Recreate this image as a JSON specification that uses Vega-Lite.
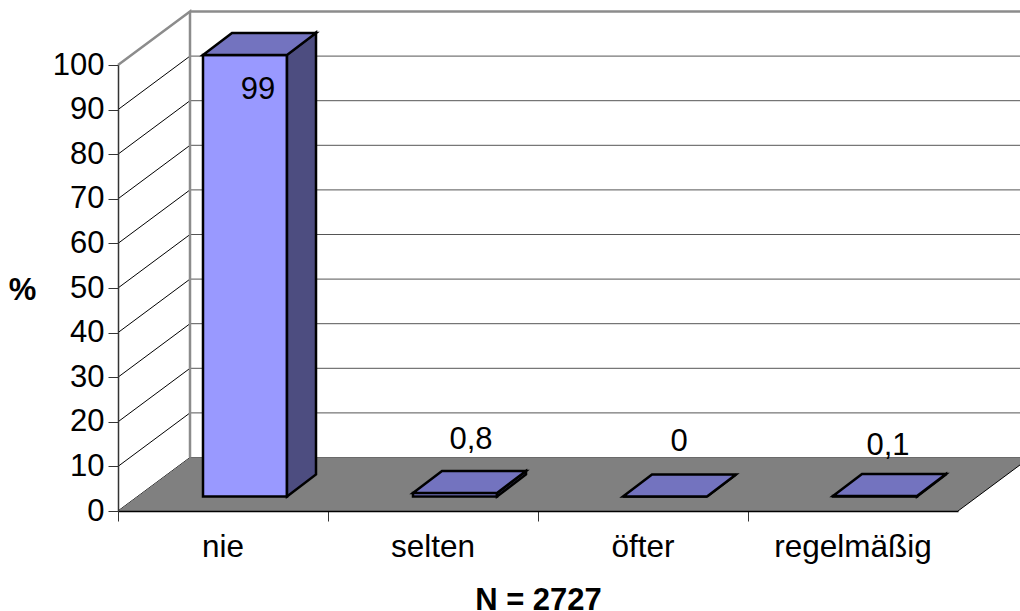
{
"$schema":"https://vega.github.io/schema/vega-lite/v6.json",
"width":840,"height":446,
"autosize":{"type":"none"},
"padding":{"left":118,"top":65,"right":62,"bottom":100},
"background":"white",
"datasets":{
"bars":[
{"cat":"nie","value":99,"label":"99"},
{"cat":"selten","value":0.8,"label":"0,8"},
{"cat":"öfter","value":0,"label":"0"},
{"cat":"regelmäßig","value":0.1,"label":"0,1"}],
"ticks":[{"t":0},{"t":10},{"t":20},{"t":30},{"t":40},{"t":50},{"t":60},{"t":70},{"t":80},{"t":90},{"t":100}]
},
"config":{"view":{"stroke":null},"font":"Liberation Sans","text":{"font":"Liberation Sans"}},
"layer":[
{"data":{"name":"ticks"},
 "transform":[{"filter":"datum.t<100"}],
 "mark":{"type":"point","shape":"M72 -53.5H912","size":4,"filled":false,"stroke":"#555555","strokeWidth":1,"opacity":1},
 "encoding":{
  "x":{"datum":"nie","type":"nominal","bandPosition":0,
   "scale":{"domain":["nie","selten","öfter","regelmäßig"],"paddingInner":0,"paddingOuter":0},
   "axis":{"title":"N = 2727","titleFont":"Liberation Sans","titleFontSize":31,"titleFontWeight":"bold","titleColor":"black","titleX":420,"titleY":89,"titleBaseline":"middle","labelFont":"Liberation Sans","labelFontSize":31.5,"labelColor":"black","labelAngle":0,"labelPadding":10,"tickSize":10,"tickColor":"#333333","domainColor":"black","domainWidth":1.5,"zindex":1,"grid":false,"bandPosition":0}},
  "y":{"field":"t","type":"quantitative",
   "scale":{"domain":[0,100],"nice":false},
   "axis":{"values":[0,10,20,30,40,50,60,70,80,90,100],"title":"%","titleAngle":0,"titleFont":"Liberation Sans","titleFontSize":31,"titleFontWeight":"bold","titleColor":"black","titleX":-96,"titleY":225,"titleBaseline":"middle","titleAlign":"center","labelFont":"Liberation Sans","labelFontSize":31,"labelColor":"black","labelPadding":4,"tickSize":10,"tickColor":"#333333","domainColor":"#333333","domainWidth":1.5,"grid":false,"zindex":1}}
 }},
{"data":{"name":"ticks"},
 "transform":[{"filter":"datum.t<100"}],
 "mark":{"type":"point","shape":"M0 0L72 -53.5","size":4,"filled":false,"stroke":"black","strokeWidth":1,"opacity":1},
 "encoding":{"x":{"datum":"nie","type":"nominal","bandPosition":0},"y":{"field":"t","type":"quantitative"}}},
{"data":{"name":"ticks"},
 "transform":[{"filter":"datum.t==0"}],
 "mark":{"type":"point","shape":"M0 0L72 -53.5H912L840 0Z","size":4,"filled":true,"fill":"#808080","strokeWidth":0,"opacity":1},
 "encoding":{"x":{"datum":"nie","type":"nominal","bandPosition":0},"y":{"field":"t","type":"quantitative"}}},
{"data":{"name":"ticks"},
 "transform":[{"filter":"datum.t==0"}],
 "mark":{"type":"point","shape":"M840 0L912 -53.5","size":4,"filled":false,"stroke":"black","strokeWidth":1,"opacity":1},
 "encoding":{"x":{"datum":"nie","type":"nominal","bandPosition":0},"y":{"field":"t","type":"quantitative"}}},
{"data":{"name":"ticks"},
 "transform":[{"filter":"datum.t==100"}],
 "mark":{"type":"point","shape":"M0 0L72 -53.5V392.5M72 -53.5H912","size":4,"filled":false,"stroke":"#8c8c8c","strokeWidth":2.5,"opacity":1},
 "encoding":{"x":{"datum":"nie","type":"nominal","bandPosition":0},"y":{"field":"t","type":"quantitative"}}},
{"data":{"name":"bars"},
 "mark":{"type":"bar","size":84,"xOffset":22,"x2Offset":22,"yOffset":-14.5,"y2Offset":-14.5,"fill":"#9999ff","stroke":"black","strokeWidth":2.5,"clip":false},
 "encoding":{"x":{"field":"cat","type":"nominal"},"y":{"field":"value","type":"quantitative"}}},
{"data":{"name":"bars"},
 "mark":{"type":"point","size":4,"filled":true,"fill":"#4d4d80","stroke":"black","strokeWidth":2.5,"opacity":1,"xOffset":64,"yOffset":-14.5},
 "encoding":{"x":{"field":"cat","type":"nominal"},"y":{"datum":0,"type":"quantitative"},
  "shape":{"field":"cat","type":"nominal","legend":null,"scale":{"domain":["nie","selten","öfter","regelmäßig"],"range":["M0 0L29 -22V-464L0 -442Z","M0 0L29 -22V-25.6L0 -3.6Z","M0 0L29 -22Z","M0 0L29 -22V-22.4L0 -0.4Z"]}}}},
{"data":{"name":"bars"},
 "mark":{"type":"point","shape":"M-42 0L-13 -22H71L42 0Z","size":4,"filled":true,"fill":"#7373bf","stroke":"black","strokeWidth":2.5,"opacity":1,"xOffset":22,"yOffset":-14.5},
 "encoding":{"x":{"field":"cat","type":"nominal"},"y":{"field":"value","type":"quantitative"}}},
{"data":{"name":"bars"},"transform":[{"filter":"datum.cat=='nie'"}],
 "mark":{"type":"text","fontSize":31,"font":"Liberation Sans","fill":"black","dx":35,"dy":21,"baseline":"middle"},
 "encoding":{"x":{"field":"cat","type":"nominal"},"y":{"field":"value","type":"quantitative"},"text":{"field":"label"}}},
{"data":{"name":"bars"},"transform":[{"filter":"datum.cat=='selten'"}],
 "mark":{"type":"text","fontSize":31,"font":"Liberation Sans","fill":"black","dx":38,"dy":-67,"baseline":"middle"},
 "encoding":{"x":{"field":"cat","type":"nominal"},"y":{"field":"value","type":"quantitative"},"text":{"field":"label"}}},
{"data":{"name":"bars"},"transform":[{"filter":"datum.cat=='öfter'"}],
 "mark":{"type":"text","fontSize":31,"font":"Liberation Sans","fill":"black","dx":36,"dy":-69,"baseline":"middle"},
 "encoding":{"x":{"field":"cat","type":"nominal"},"y":{"field":"value","type":"quantitative"},"text":{"field":"label"}}},
{"data":{"name":"bars"},"transform":[{"filter":"datum.cat=='regelmäßig'"}],
 "mark":{"type":"text","fontSize":31,"font":"Liberation Sans","fill":"black","dx":35,"dy":-65,"baseline":"middle"},
 "encoding":{"x":{"field":"cat","type":"nominal"},"y":{"field":"value","type":"quantitative"},"text":{"field":"label"}}}
]
}
